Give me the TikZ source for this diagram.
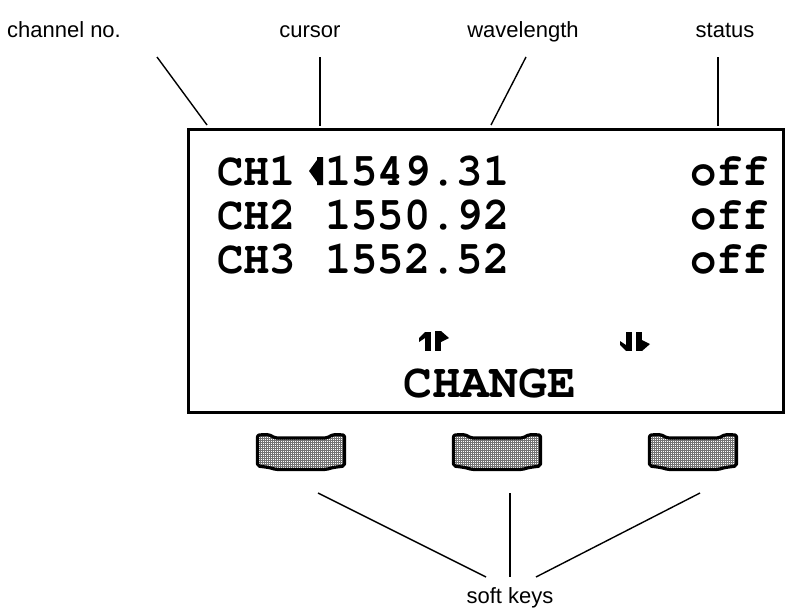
\documentclass[tikz,border=0pt]{standalone}
\usepackage[T1,TU]{fontenc}
\usepackage{fontspec}
\usepackage{graphicx}
\setmainfont{Liberation Sans}
\usetikzlibrary{patterns.meta}
\newcommand\lcdfont{\fontencoding{T1}\fontfamily{pcr}\fontseries{b}\fontshape{n}\fontsize{43}{43}\selectfont}
\newcommand\bigfont{\fontencoding{T1}\fontfamily{pcr}\fontseries{b}\fontshape{n}\fontsize{48}{48}\selectfont}
\newcommand\rowtxt[1]{\scalebox{1.02}[1.08]{#1}}
\newcommand\keyshape{(1.5,2) -- (1.5,33) -- (13,34.5) -- (20,36.5) -- (70,36.5) -- (77,34.5) -- (88.5,33) -- (88.5,2) -- (77,1.5) -- (71,5) -- (19,5) -- (13,1.5) -- cycle}
\tikzset{
  lbl/.style={anchor=base, inner sep=0pt, font=\fontsize{22}{25}\selectfont},
  lcd/.style={anchor=base west, inner sep=0pt, font=\lcdfont},
  conn/.style={line width=1.4pt, line cap=butt},
  keyborder/.style={line width=3.2pt, rounded corners=2pt, line join=round},
}
\begin{document}
\begin{tikzpicture}[x=1pt,y=-1pt]
\useasboundingbox (0,0) rectangle (812,616);
% top labels
\node[lbl] (lch) at (64,37) {channel no.};
\node[lbl] (lcu) at (310,37) {cursor};
\node[lbl] (lwl) at (523,37) {wavelength};
\node[lbl] (lst) at (725,37) {status};
\coordinate (ach) at (157,57);  \coordinate (bch) at (207,125);
\coordinate (acu) at (320,57);  \coordinate (bcu) at (320,126);
\coordinate (awl) at (526,57);  \coordinate (bwl) at (491,125);
\coordinate (ast) at (718,57);  \coordinate (bst) at (718,126);
\draw[conn] (ach) -- (bch);
\draw[conn] (acu) -- (bcu);
\draw[conn] (awl) -- (bwl);
\draw[conn] (ast) -- (bst);
% display
\node (disp) [draw, line width=2.6pt, anchor=north west, inner sep=0pt,
  minimum width=595pt, minimum height=283pt] at (187,128) {};
% rows
\node[lcd] (r1a) at (217,185) {\rowtxt{CH1}};
\node[lcd] (r1b) at (325,185) {\rowtxt{1549.31}};
\node[lcd] (r1c) at (690,185) {\rowtxt{off}};
\node[lcd] (r2a) at (217,229) {\rowtxt{CH2}};
\node[lcd] (r2b) at (325,229) {\rowtxt{1550.92}};
\node[lcd] (r2c) at (690,229) {\rowtxt{off}};
\node[lcd] (r3a) at (217,273) {\rowtxt{CH3}};
\node[lcd] (r3b) at (325,273) {\rowtxt{1552.52}};
\node[lcd] (r3c) at (690,273) {\rowtxt{off}};
\node[lcd, font=\bigfont] (chg) at (403,397) {CHANGE};
% cursor glyph
\fill (309,171) -- (317,160) -- (317,157) -- (323,157) -- (323,185) -- (317,185) -- (317,182) -- cycle;
% up arrow glyph
\fill (425,332) rectangle (431,351);
\fill (425,332) -- (419,338) -- (419,342) -- (425,338) -- cycle;
\fill (435,331) rectangle (441,351);
\fill (441,331) -- (449,338) -- (441,342) -- cycle;
% down arrow glyph
\fill (626,332) rectangle (632,351);
\fill (626,351) -- (620,345) -- (620,341) -- (626,345) -- cycle;
\fill (636,332) rectangle (642,351);
\fill (642,351) -- (650,344) -- (642,340) -- cycle;
% soft keys
\foreach \kx in {256,452,648}{
  \begin{scope}[shift={(\kx,433)}]
    \fill[white] \keyshape;
    \fill[pattern={Lines[distance=2pt,angle=0,line width=0.5pt]}, pattern color=black!55] \keyshape;
    \fill[pattern={Lines[distance=2pt,angle=90,line width=0.5pt]}, pattern color=black!55] \keyshape;
    \draw[keyborder] \keyshape;
  \end{scope}
}
\node[lbl] (soft) at (510,603) {soft keys};
\coordinate (k1) at (318,493); \coordinate (e1) at (486,577);
\coordinate (k2) at (510,493); \coordinate (e2) at (510,577);
\coordinate (k3) at (700,493); \coordinate (e3) at (536,577);
\draw[conn] (k1) -- (e1);
\draw[conn] (k2) -- (e2);
\draw[conn] (k3) -- (e3);
\end{tikzpicture}
\end{document}
